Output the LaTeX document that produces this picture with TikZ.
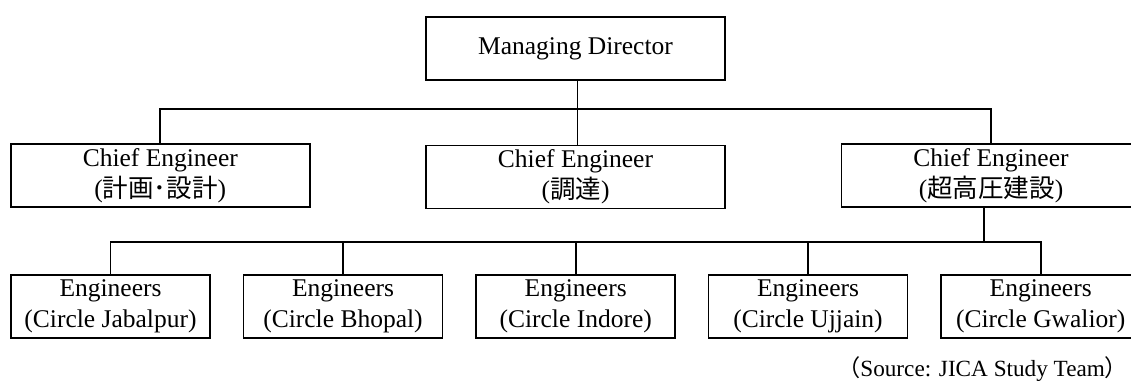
\documentclass[tikz,border=0pt]{standalone}
\usepackage{fontspec}
\setmainfont{Liberation Serif}
\newfontfamily\jp{Noto Sans CJK JP}
\usetikzlibrary{positioning}

\begin{document}
\begin{tikzpicture}[x=0.5pt,y=-0.5pt,line width=0.9pt,
  boite/.style={draw,minimum width=149.6pt,minimum height=31.5pt,inner sep=0pt,align=center,font=\fontsize{12.75}{15.5}\selectfont},
  petite/.style={boite,minimum width=99.5pt,minimum height=31.2pt}]
\useasboundingbox (0,0) rectangle (1131,385);
\clip (0,0) rectangle (1131,385);

\node[boite] (md) at (575.5,48.5) {Managing Director};%le directeur

\node[boite] (ce1) at (160.3,175.5) {Chief Engineer\\({\jp 計画･設計})};
\node[boite] (ce2) at (575.5,177) {Chief Engineer\\({\jp 調達})};
\node[boite] (ce3) at (991,175.5) {Chief Engineer\\({\jp 超高圧建設})};

\node[petite] (e1) at (110.5,306.5) {Engineers\\(Circle Jabalpur)};
\node[petite] (e2) at (343,306.5) {Engineers\\(Circle Bhopal)};
\node[petite] (e3) at (575.7,306.5) {Engineers\\(Circle Indore)};
\node[petite] (e4) at (808,306.5) {Engineers\\(Circle Ujjain)};
\node[petite] (e5) at (1040.7,306.5) {Engineers\\(Circle Gwalior)};

\node[anchor=east,inner sep=0pt,font=\fontsize{11.6}{14}\selectfont] (src) at (1129,369) {{\jp （}Source: JICA Study Team{\jp ）}};

\coordinate (bus1) at (577.5,109);%les traits
\coordinate (bus2) at (984,242);

\draw (md.south -| bus1) -- (ce2.north -| bus1);
\draw (ce1.north) |- (bus1) -| (ce3.north);
\draw (ce3.south -| bus2) -- (bus2);
\draw (e1.north) |- (bus2) -| (e5.north);
\foreach \e in {e2,e3,e4}
  \draw (\e.north) -- (\e.north |- bus2);

\end{tikzpicture}
\end{document}
